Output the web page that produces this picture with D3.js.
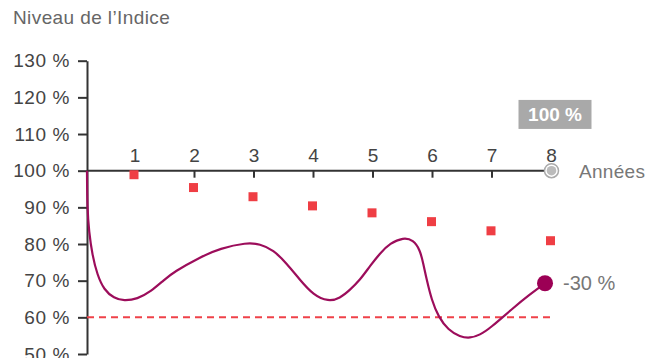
<!DOCTYPE html>
<html>
<head>
<meta charset="utf-8">
<script src="https://cdn.jsdelivr.net/npm/d3@7"></script>
<style>
  body { margin: 0; background: #fff; }
  #chart { width: 659px; height: 358px; }
  text { font-family: "Liberation Sans", Arial, sans-serif; }
</style>
</head>
<body>
<div id="chart"></div>
<script>
// years on the x axis
const years = [1, 2, 3, 4, 5, 6, 7, 8];
// red squares: guaranteed level per year (%)
const floorLevels = [98.9, 95.4, 92.9, 90.4, 88.5, 86.1, 83.6, 80.9];
// index path: year positions and levels (%)
const indexYears = [0.193, 0.198, 0.227, 0.282, 0.366, 0.479, 0.647, 0.815, 1.039, 1.264, 1.487,
  1.655, 2.092, 2.429, 2.877, 3.101, 3.324, 3.55, 3.773, 3.997, 4.249, 4.445, 4.613,
  4.782, 4.95, 5.118, 5.286, 5.509, 5.677, 5.79, 5.845, 5.903, 5.987, 6.097, 6.266, 6.462,
  6.63, 6.798, 6.966, 7.358, 7.639, 7.891];
const indexLevels = [100, 89.7, 83.4, 77.0, 71.6, 67.5, 65.2, 64.5, 65.0, 67.0, 70.2,
  72.4, 76.4, 78.8, 80.4, 80.0, 78.4, 74.7, 70.2, 66.1, 64.3, 65.2, 67.5,
  70.2, 74.0, 77.5, 80.2, 81.8, 81.1, 78.4, 74.7, 70.2, 64.7, 60.2, 56.5, 54.7,
  54.3, 55.2, 57.0, 62.6, 66.3, 69.3];
const yTicks = [50, 60, 70, 80, 90, 100, 110, 120, 130];
const barrier = 60;
const startLevel = 100;
const endLabel = "-30 %";

const width = 659, height = 358;
const axisX = 87;

const svg = d3.select("#chart").append("svg")
  .attr("width", width).attr("height", height);

const x = d3.scaleLinear().domain([0, 8]).range([75.5, 551.5]);
const y = d3.scaleLinear().domain([50, 130]).range([354, 60.7]);

// title
svg.append("text")
  .attr("x", 13).attr("y", 24)
  .attr("font-size", 19)
  .attr("letter-spacing", 0.4)
  .attr("fill", "#666")
  .text("Niveau de l\u2019Indice");

// y axis
const yAxis = svg.append("g")
  .attr("transform", `translate(${axisX},0)`)
  .call(d3.axisLeft(y).tickValues(yTicks).tickSize(9).tickSizeOuter(0).tickPadding(8)
    .tickFormat((d) => `${d} %`));
yAxis.select(".domain").attr("stroke", "#333").attr("stroke-width", 2);
yAxis.selectAll(".tick line").attr("stroke", "#333").attr("stroke-width", 2);
yAxis.selectAll(".tick text")
  .attr("font-size", 19).attr("fill", "#444")
  .attr("letter-spacing", 0.6)
  .style("font-family", "'Liberation Sans', Arial, sans-serif");

// x axis: line at 100 %, ticks below, labels above
const x0 = y(startLevel);
svg.append("line")
  .attr("x1", axisX).attr("x2", x(8))
  .attr("y1", x0).attr("y2", x0)
  .attr("stroke", "#333").attr("stroke-width", 2);

svg.append("g").selectAll("line")
  .data(years.slice(0, -1))
  .join("line")
  .attr("x1", (d) => x(d)).attr("x2", (d) => x(d))
  .attr("y1", x0).attr("y2", x0 + 7)
  .attr("stroke", "#333").attr("stroke-width", 2);

svg.append("g").selectAll("text")
  .data(years)
  .join("text")
  .attr("x", (d) => x(d)).attr("y", x0 - 9)
  .attr("text-anchor", "middle")
  .attr("font-size", 19).attr("fill", "#444")
  .text((d) => d);

svg.append("text")
  .attr("x", 579).attr("y", x0 + 7)
  .attr("font-size", 19).attr("fill", "#777")
  .attr("letter-spacing", 0.3)
  .text("Années");

// end of axis marker
svg.append("circle")
  .attr("cx", x(8)).attr("cy", x0).attr("r", 7)
  .attr("fill", "#fff").attr("stroke", "#aaa").attr("stroke-width", 1.5);
svg.append("circle")
  .attr("cx", x(8)).attr("cy", x0).attr("r", 4.8)
  .attr("fill", "#bbb");

// 100 % box
const box = svg.append("g").attr("transform", `translate(${x(8) + 2},${y(119.3)})`);
box.append("rect")
  .attr("x", -35).attr("y", 0).attr("width", 73).attr("height", 29)
  .attr("fill", "#a9a9a9");
box.append("text")
  .attr("x", 1.5).attr("y", 21.5)
  .attr("text-anchor", "middle")
  .attr("font-size", 19).attr("font-weight", "bold").attr("fill", "#fff")
  .text(`${startLevel} %`);

// barrier dashed line
svg.append("line")
  .attr("x1", axisX).attr("x2", x(8))
  .attr("y1", y(barrier)).attr("y2", y(barrier))
  .attr("stroke", "#ef4249").attr("stroke-width", 2)
  .attr("stroke-dasharray", "7,5");

// index curve (B-spline smooths the hand-read points)
const pts = indexYears.map((t, i) => [t, indexLevels[i]]);
const line = d3.line()
  .x((d) => x(d[0])).y((d) => y(d[1]))
  .curve(d3.curveBasis);
svg.append("path")
  .datum(pts)
  .attr("d", line)
  .attr("fill", "none")
  .attr("stroke", "#9c0d5b")
  .attr("stroke-width", 2.2);

// floor squares
svg.append("g").selectAll("rect")
  .data(years)
  .join("rect")
  .attr("x", (d) => x(d) - 5.5)
  .attr("y", (d, i) => y(floorLevels[i]) - 4.5)
  .attr("width", 9).attr("height", 9)
  .attr("fill", "#ef3e44");

// end dot and label
const last = pts[pts.length - 1];
svg.append("circle")
  .attr("cx", x(last[0])).attr("cy", y(last[1])).attr("r", 8)
  .attr("fill", "#9c0055");
svg.append("text")
  .attr("x", 563).attr("y", y(last[1]) + 7)
  .attr("font-size", 20).attr("fill", "#777")
  .text(endLabel);
</script>
</body>
</html>
